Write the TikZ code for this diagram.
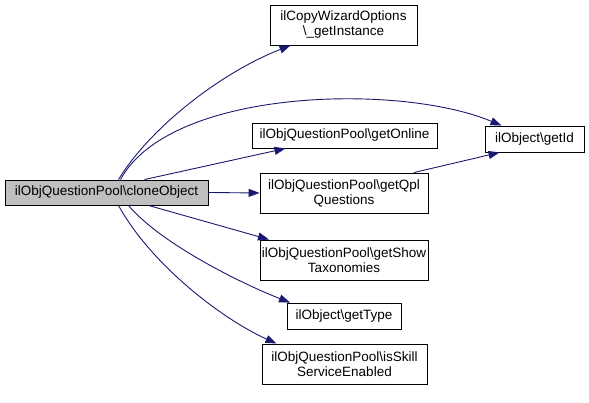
\documentclass[tikz,border=0pt]{standalone}
\usepackage{fontspec}
\setmainfont{Liberation Sans}
\usetikzlibrary{arrows.meta}
\definecolor{edgeblue}{HTML}{191970}
\definecolor{rootgray}{HTML}{BFBFBF}
\tikzset{
  fn/.style={draw=black, line width=0.9pt, fill=white, inner sep=0pt, align=center,
    font=\fontsize{13.5}{15}\selectfont},
  edge/.style={draw=edgeblue, line width=0.9pt, -{Triangle[length=11pt,width=8pt]}},
}
\begin{document}
\begin{tikzpicture}[x=1pt,y=1pt]
\useasboundingbox (0,0) rectangle (589,403);
\node[fn, fill=rootgray, minimum width=203, minimum height=25] (root) at (106.5,210.5) {ilObjQuestionPool\textbackslash cloneObject};
\node[fn, minimum width=147, minimum height=40] (copy) at (343.5,378) {ilCopyWizardOptions\\\textbackslash\_getInstance};
\node[fn, minimum width=185, minimum height=25] (online) at (344.5,267.5) {ilObjQuestionPool\textbackslash getOnline};
\node[fn, minimum width=168, minimum height=40] (qpl) at (344,210) {ilObjQuestionPool\textbackslash getQpl\\Questions};
\node[fn, minimum width=99, minimum height=26] (getid) at (534.5,264) {ilObject\textbackslash getId};
\node[fn, minimum width=168, minimum height=40] (showtax) at (344,143) {ilObjQuestionPool\textbackslash getShow\\Taxonomies};
\node[fn, minimum width=114, minimum height=26] (gettype) at (344,87) {ilObject\textbackslash getType};
\node[fn, minimum width=165, minimum height=40] (skill) at (344.5,39) {ilObjQuestionPool\textbackslash isSkill\\ServiceEnabled};

\draw[edge] ([xshift=12]root.north) .. controls (150,275) and (220,330) .. ([xshift=-53]copy.south);
\draw[edge] ([xshift=14]root.north) .. controls (170,315) and (400,320) .. ([xshift=-33]getid.north);
\draw[edge] ([xshift=38]root.north) -- ([xshift=-59]online.south);
\draw[edge] (root.east) -- (qpl.west);
\draw[edge] ([xshift=70]qpl.north) -- ([xshift=-35]getid.south);
\draw[edge] ([xshift=42]root.south) -- ([xshift=-75]showtax.north);
\draw[edge] ([xshift=22]root.south) .. controls (160,160) and (240,120) .. ([xshift=-54]gettype.north);
\draw[edge] ([xshift=12]root.south) .. controls (150,140) and (220,85) .. ([xshift=-68]skill.north);
\end{tikzpicture}
\end{document}
